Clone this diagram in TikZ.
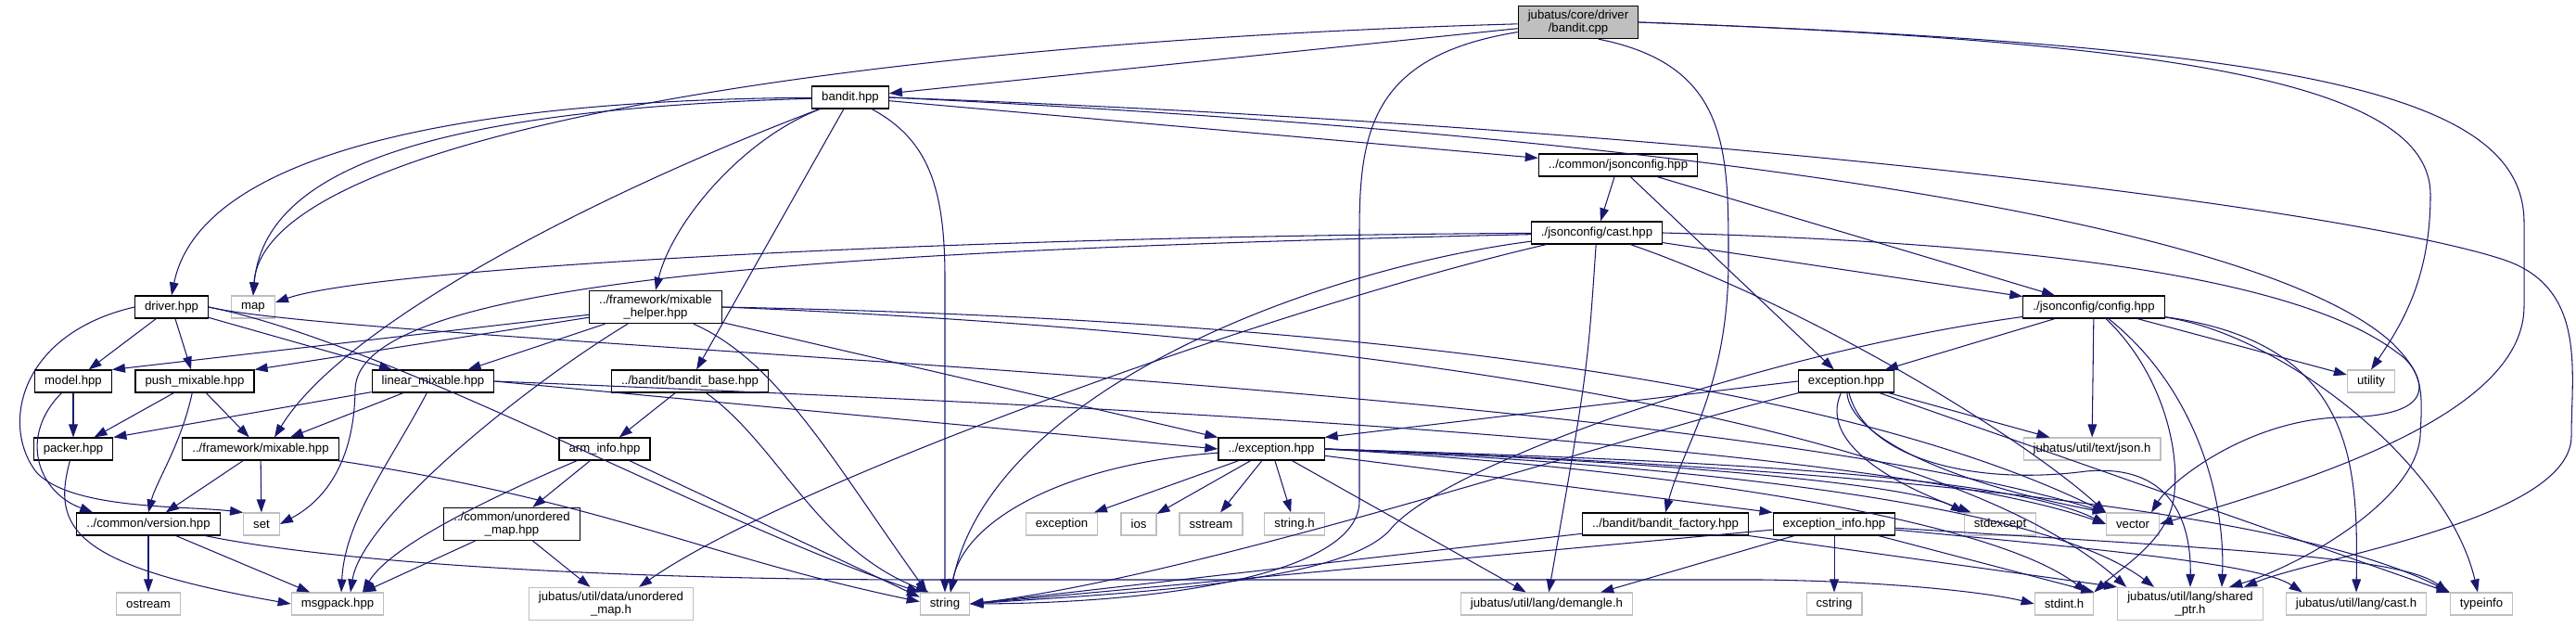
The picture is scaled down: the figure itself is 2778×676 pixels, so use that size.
\documentclass[tikz,border=0pt]{standalone}
\usepackage{fontspec}
\setmainfont{Liberation Sans}
\usetikzlibrary{arrows.meta,calc}
\definecolor{edgeblue}{HTML}{191970}
\definecolor{extgray}{HTML}{BFBFBF}
\begin{document}
\begin{tikzpicture}[x=0.02cm, y=-0.02cm, every node/.style={font=\fontsize{7.5}{8}\selectfont},
  hdr/.style={draw=black, fill=white, line width=0.65pt, minimum height=13.6pt, inner xsep=6pt, inner ysep=2.5pt, align=center},
  sys/.style={hdr, draw=extgray},
  rootfile/.style={hdr, fill=extgray},
  dep/.style={draw=edgeblue, line width=0.6pt, -{Triangle[length=8pt,width=5.5pt]}}]
\useasboundingbox (0,0) rectangle (2778,676);
% files
\node[rootfile] (cpp) at (1702,24) {jubatus/core/driver\\/bandit.cpp};
\node[hdr] (bhpp) at (917,105) {bandit.hpp};
\node[hdr] (jcfg) at (1745,178) {../common/jsonconfig.hpp};
\node[hdr] (cast) at (1722,251) {./jsonconfig/cast.hpp};
\node[hdr] (config) at (2258,331) {./jsonconfig/config.hpp};
\node[hdr] (driver) at (185,331) {driver.hpp};
\node[sys] (map) at (273,331) {map};
\node[hdr] (helper) at (707,331) {../framework/mixable\\\_helper.hpp};
\node[hdr] (model) at (79,411) {model.hpp};
\node[hdr] (push) at (210,411) {push\_mixable.hpp};
\node[hdr] (linear) at (467,411) {linear\_mixable.hpp};
\node[hdr] (bbase) at (744,411) {../bandit/bandit\_base.hpp};
\node[hdr] (jexc) at (1991,411) {exception.hpp};
\node[sys] (utility) at (2557,411) {utility};
\node[hdr] (packer) at (79,484) {packer.hpp};
\node[hdr] (fmix) at (281,484) {../framework/mixable.hpp};
\node[hdr] (arm) at (652,484) {arm\_info.hpp};
\node[hdr] (exc) at (1371,484) {../exception.hpp};
\node[sys] (json) at (2256,484) {jubatus/util/text/json.h};
\node[hdr] (version) at (160,565) {../common/version.hpp};
\node[sys] (set) at (282,565) {set};
\node[hdr] (cumap) at (552,565) {../common/unordered\\\_map.hpp};
\node[sys] (exception) at (1145,565) {exception};
\node[sys] (ios) at (1228,565) {ios};
\node[sys] (sstream) at (1306,565) {sstream};
\node[sys] (stringh) at (1396,565) {string.h};
\node[hdr] (factory) at (1796,565) {../bandit/bandit\_factory.hpp};
\node[hdr] (excinfo) at (1978,565) {exception\_info.hpp};
\node[sys] (stdexcept) at (2157,565) {stdexcept};
\node[sys] (vector) at (2300,565) {vector};
\node[sys] (ostream) at (160,651) {ostream};
\node[sys] (msgpack) at (364,651) {msgpack.hpp};
\node[sys] (dumap) at (659,651) {jubatus/util/data/unordered\\\_map.h};
\node[sys] (string) at (1019,651) {string};
\node[sys] (demangle) at (1668,651) {jubatus/util/lang/demangle.h};
\node[sys] (cstring) at (1978,651) {cstring};
\node[sys] (stdint) at (2226,651) {stdint.h};
\node[sys] (sptr) at (2362,651) {jubatus/util/lang/shared\\\_ptr.h};
\node[sys] (lcast) at (2541,651) {jubatus/util/lang/cast.h};
\node[sys] (typeinfo) at (2676,651) {typeinfo};
% straight includes
\foreach \a/\b in {cpp/bhpp, bhpp/bbase, bhpp/jcfg, jcfg/cast, jcfg/jexc, jcfg/config, cast/config,
  config/jexc, config/json, config/utility, jexc/json, jexc/typeinfo,
  exc/exception, exc/ios, exc/sstream, exc/stringh, exc/demangle, exc/excinfo.north west,
  excinfo/cstring, excinfo/stdint.north east, excinfo/string.east, factory/string.east, factory/sptr.north west,
  helper/linear, helper/model.north east, helper/push.north east, helper/exc.north west,
  driver/model, driver/push, driver/linear, model/packer, push/packer, push/fmix,
  linear/fmix, linear/packer.north east, fmix/version, fmix/set, version/ostream, version/msgpack,
  bbase/arm, arm/cumap, arm/string.165, cumap/msgpack, cumap/dumap}
  \draw[dep] (\a) -- (\b);
\draw[dep] (jexc.west) -- (exc.north east);
\draw[dep] (linear.east) -- (exc.west);
\draw[dep] (excinfo) -- ($(demangle.north east)+(-35,0)$);
% bandit.cpp
\draw[dep] (cpp) .. controls (950,45) and (285,140) .. (map.north);
\draw[dep] (cpp) .. controls (1480,60) and (1466,140) .. (1466,250) -- (1466,540) .. controls (1466,620) and (1250,650) .. (string.east);
\draw[dep] (cpp.-40) .. controls (1864,70) and (1864,160) .. (1864,280) .. controls (1864,420) and (1815,480) .. (factory.north);
\draw[dep] (cpp.east) .. controls (2350,45) and (2621,90) .. (2621,210) .. controls (2621,300) and (2590,350) .. (utility.north);
\draw[dep] (cpp.east) .. controls (2480,50) and (2722,100) .. (2722,240) -- (2722,330) .. controls (2722,440) and (2520,510) .. (vector.east);
% bandit.hpp
\draw[dep] (bhpp) .. controls (480,108) and (215,170) .. (driver.north);
\draw[dep] (bhpp) .. controls (470,118) and (285,180) .. (map.north);
\draw[dep] (bhpp) .. controls (800,150) and (725,240) .. (helper.north);
\draw[dep] (bhpp) .. controls (640,210) and (370,350) .. ($(fmix.north)+(15,0)$);
\draw[dep] (bhpp) .. controls (1000,150) and (1019,200) .. (1019,300) -- (string.north);
\draw[dep] (bhpp.east) .. controls (1900,140) and (2550,230) .. (2700,280) .. controls (2790,310) and (2773,400) .. (2773,470) .. controls (2773,560) and (2500,600) .. ($(sptr.north)+(58,0)$);
\draw[dep] (bhpp.east) .. controls (1900,150) and (2450,250) .. (2580,370) .. controls (2640,430) and (2600,450) .. (2520,450) .. controls (2420,455) and (2340,520) .. ($(vector.north)+(20,0)$);
% cast.hpp
\draw[dep] (cast) .. controls (1000,255) and (400,290) .. ($(map.east)+(0,-5)$);
\draw[dep] (cast) .. controls (900,270) and (385,300) .. (383,420) .. controls (382,510) and (340,545) .. (set.east);
\draw[dep] (cast) .. controls (1420,290) and (1070,420) .. ($(string.north)+(6,0)$);
\draw[dep] (cast) .. controls (1380,330) and (850,520) .. ($(dumap.north)+(30,0)$);
\draw[dep] (cast) .. controls (1712,400) .. (demangle);
\draw[dep] (cast) .. controls (1950,330) and (2180,470) .. (vector.north west);
\draw[dep] (cast.east) .. controls (2200,262) and (2480,300) .. (2585,380) .. controls (2615,400) and (2612,430) .. (2610,470) .. controls (2605,540) and (2480,610) .. ($(sptr.north)+(42,0)$);
% config.hpp
\draw[dep] (config) .. controls (1900,380) and (1560,500) .. (1500,570) .. controls (1450,630) and (1200,640) .. (string.east);
\draw[dep] (config) .. controls (2370,420) and (2400,540) .. ($(sptr.north)+(34,0)$);
\draw[dep] (config) .. controls (2330,400) and (2350,480) .. (2345,530) .. controls (2342,580) and (2290,610) .. (stdint.north east);
\draw[dep] (config) .. controls (2540,370) and (2543,500) .. (lcast.north);
\draw[dep] (config) .. controls (2460,360) and (2640,500) .. ($(typeinfo.north)+(-4,0)$);
% exception.hpp
\draw[dep] (jexc) .. controls (1750,470) and (1300,620) .. (string.east);
\draw[dep] (jexc) .. controls (1960,480) and (2050,525) .. ($(stdexcept.north west)+(8,0)$);
\draw[dep] (jexc) .. controls (1995,470) and (2100,520) .. (vector.north west);
\draw[dep] (jexc) .. controls (2010,490) and (2120,525) .. (2250,508) .. controls (2340,500) and (2363,560) .. (sptr.north);
% ../exception.hpp
\draw[dep] (exc) .. controls (1150,500) and (1040,560) .. ($(string.north)+(6,0)$);
\draw[dep] (exc.east) .. controls (1750,495) and (2060,520) .. (stdexcept.north west);
\draw[dep] (exc.east) .. controls (1800,495) and (2160,510) .. (vector.west);
\draw[dep] (exc.east) .. controls (1800,500) and (2200,540) .. ($(sptr.north west)+(40,0)$);
\draw[dep] (exc.east) .. controls (1800,505) and (2150,560) .. ($(stdint.north east)+(-8,0)$);
\draw[dep] (exc.east) .. controls (1900,500) and (2450,540) .. (typeinfo.north west);
% exception_info.hpp
\draw[dep] (excinfo) .. controls (2300,595) and (2440,610) .. ($(lcast.north west)+(18,0)$);
\draw[dep] (excinfo) .. controls (2400,592) and (2590,600) .. ($(typeinfo.north west)+(-2,0)$);
% mixable_helper.hpp
\draw[dep] (helper) .. controls (560,420) and (390,560) .. ($(msgpack.north)+(14,0)$);
\draw[dep] (helper) .. controls (840,390) and (900,500) .. ($(string.north west)+(8,0)$);
\draw[dep] (helper.east) .. controls (1500,345) and (2000,420) .. (vector.north west);
\draw[dep] (helper.east) .. controls (1500,360) and (2100,460) .. ($(sptr.north west)+(10,0)$);
% linear_mixable.hpp
\draw[dep] (linear) .. controls (420,500) and (372,560) .. ($(msgpack.north)+(4,0)$);
\draw[dep] (linear.east) .. controls (1000,430) and (2000,470) .. (vector.west);
% driver.hpp
\draw[dep] (driver.west) .. controls (20,360) and (0,460) .. (40,510) .. controls (80,550) and (200,545) .. (set.north west);
\draw[dep] (driver.east) .. controls (400,372) and (1800,410) .. (vector.north west);
\draw[dep] (driver.east) .. controls (420,370) and (760,560) .. (string.155);
% smaller headers
\draw[dep] (model) .. controls (20,470) and (40,530) .. ($(version.north west)+(18,0)$);
\draw[dep] (push) .. controls (195,480) and (168,520) .. (version.north);
\draw[dep] (packer) .. controls (55,570) and (80,610) .. (msgpack.west);
\draw[dep] (fmix) .. controls (650,540) and (760,600) .. (string.175);
\draw[dep] (version) .. controls (380,610) and (700,625) .. (1000,625) -- (1900,625) .. controls (2050,627) and (2150,640) .. (stdint.west);
\draw[dep] (bbase) .. controls (840,480) and (880,590) .. ($(string.north west)+(10,0)$);
\draw[dep] (arm) .. controls (520,540) and (420,590) .. ($(msgpack.north)+(27,0)$);
\end{tikzpicture}
\end{document}
